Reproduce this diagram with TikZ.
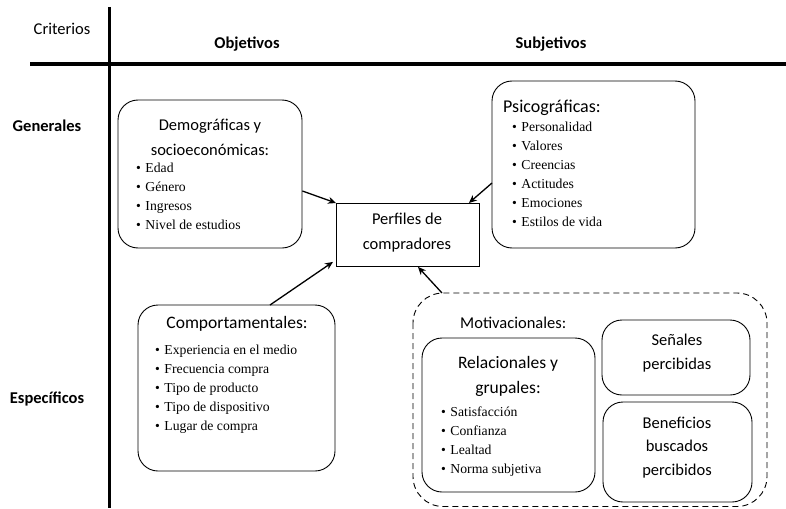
\documentclass[tikz,border=0pt]{standalone}
\usepackage{fontspec}
\setmainfont{Liberation Serif}
\newfontfamily\carl{Carlito}
\usetikzlibrary{arrows.meta}
\newcommand{\bul}{\textbullet\hspace{4.5pt}}
\begin{document}
\begin{tikzpicture}[x=1pt,y=-1pt,
  rbox/.style={draw,line width=0.9pt,rounded corners=20pt},
  hd/.style={font=\carl\fontsize{16.5}{19}\selectfont,inner sep=0pt},
  hb/.style={font=\carl\bfseries\fontsize{16.5}{19}\selectfont,inner sep=0pt},
  hr/.style={font=\carl\fontsize{16.5}{19}\selectfont,inner sep=0pt},
  bl/.style={font=\fontsize{13.7}{16}\selectfont,inner sep=0pt,anchor=base west},
  arr/.style={line width=1.3pt,-{Stealth[length=8pt,width=7pt]}}]
\useasboundingbox (0,0) rectangle (786,508);
% grid
\coordinate (vt) at (109,7);
\coordinate (vb) at (109,508);
\coordinate (hl) at (30,64);
\coordinate (hrr) at (786,64);
\draw[line width=3pt] (vt) -- (vb);
\draw[line width=3.5pt] (hl) -- (hrr);
% header labels
\node[hr,anchor=base] (crit) at (62,35) {Criterios};
\node[hb,anchor=base] (obj) at (247,49) {Objetivos};
\node[hb,anchor=base] (subj) at (551,49) {Subjetivos};
\node[hb,anchor=base] (gen) at (47,131) {Generales};
\node[hb,anchor=base] (esp) at (47,403) {Específicos};
% boxes
\draw[rbox] (118,100) rectangle (302,248);
\node[inner sep=0pt,minimum width=184pt,minimum height=148pt,anchor=north west] (demo) at (118,100) {};
\draw[rbox] (492,81) rectangle (695,248);
\node[inner sep=0pt,minimum width=203pt,minimum height=167pt,anchor=north west] (psico) at (492,81) {};
\node[draw,line width=0.9pt,inner sep=0pt,minimum width=143pt,minimum height=63pt,anchor=north west] (perf) at (336,203) {};
\draw[rbox] (138,305) rectangle (335,471);
\node[inner sep=0pt,minimum width=197pt,minimum height=166pt,anchor=north west] (comp) at (138,305) {};
\draw[dashed,line width=0.9pt,rounded corners=30pt,dash pattern=on 6pt off 4pt] (413,293) rectangle (767,506.5);
\node[inner sep=0pt,minimum width=354pt,minimum height=213.5pt,anchor=north west] (motiv) at (413,293) {};
\draw[rbox] (422,338) rectangle (595,492);
\node[inner sep=0pt,minimum width=173pt,minimum height=154pt,anchor=north west] (rel) at (422,338) {};
\draw[rbox] (602,320) rectangle (750,395);
\node[inner sep=0pt,minimum width=148pt,minimum height=75pt,anchor=north west] (sen) at (602,320) {};
\draw[rbox] (603,402) rectangle (752,502);
\node[inner sep=0pt,minimum width=149pt,minimum height=100pt,anchor=north west] (ben) at (603,402) {};
% texts
\node[hd,anchor=base] (demo1) at (210,130) {Demográficas y};
\node[hd,anchor=base] (demo2) at (210,155) {socioeconómicas:};
\foreach \t [count=\i from 0] in {Edad,Género,Ingresos,Nivel de estudios}
  \node[bl] (demob\i) at (136,172+19*\i) {\bul\t};
\node[hd,anchor=base west,font=\carl\fontsize{18}{20}\selectfont] (psico1) at (503,113) {Psicográficas:};
\foreach \t [count=\i from 0] in {Personalidad,Valores,Creencias,Actitudes,Emociones,Estilos de vida}
  \node[bl] (psicob\i) at (512,131+19*\i) {\bul\t};
\node[hd,anchor=base] (perf1) at (407,224) {Perfiles de};
\node[hd,anchor=base] (perf2) at (407,249) {compradores};
\node[hd,anchor=base,font=\carl\fontsize{17.5}{20}\selectfont] (comp1) at (237,328) {Comportamentales:};
\foreach \t [count=\i from 0] in {Experiencia en el medio,Frecuencia compra,Tipo de producto,Tipo de dispositivo,Lugar de compra}
  \node[bl] (compb\i) at (155,354+19.2*\i) {\bul\t};
\node[hd,anchor=base west] (mot1) at (460,328) {Motivacionales:};
\node[hd,anchor=base,font=\carl\fontsize{17.5}{20}\selectfont] (rel1) at (508,368) {Relacionales y};
\node[hd,anchor=base,font=\carl\fontsize{17.5}{20}\selectfont] (rel2) at (508,393) {grupales:};
\foreach \t [count=\i from 0] in {Satisfacción,Confianza,Lealtad,Norma subjetiva}
  \node[bl] (relb\i) at (441,416+19*\i) {\bul\t};
\node[hd,anchor=base] (sen1) at (677,345) {Señales};
\node[hd,anchor=base] (sen2) at (677,369) {percibidas};
\node[hd,anchor=base] (ben1) at (677,428) {Beneficios};
\node[hd,anchor=base] (ben2) at (677,451) {buscados};
\node[hd,anchor=base] (ben3) at (677,475) {percibidos};
% arrows
\draw[arr] ([yshift=-91pt]demo.north east) -- (perf.north west);
\draw[arr] ([yshift=-102pt]psico.north west) -- ([xshift=-11pt]perf.north east);
\draw[arr] ([xshift=132pt]comp.north west) -- ([shift={(-3pt,5pt)}]perf.south west);
\draw[arr] ([xshift=29pt]motiv.north west) -- ([xshift=82pt]perf.south west);
\end{tikzpicture}
\end{document}
